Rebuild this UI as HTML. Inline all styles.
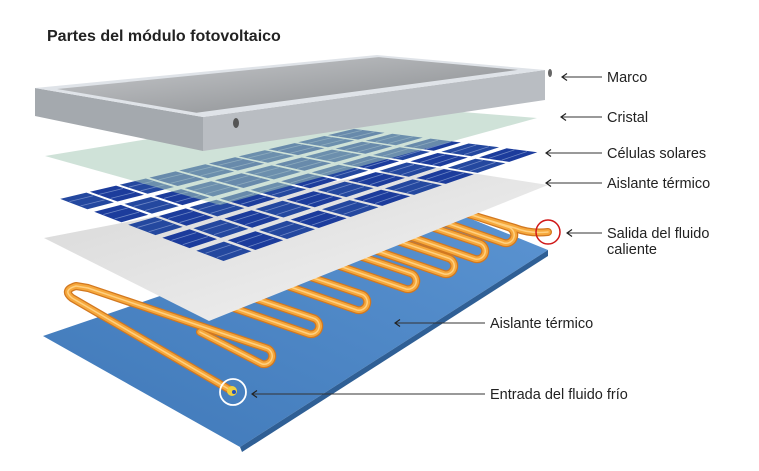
<!DOCTYPE html>
<html><head><meta charset="utf-8">
<style>
html,body{margin:0;padding:0;background:#fff;}
svg{display:block;}
text{font-family:"Liberation Sans",sans-serif;fill:#222;}
</style></head>
<body>
<svg id="s" width="759" height="471" viewBox="0 0 759 471" xmlns="http://www.w3.org/2000/svg">
<defs>
<linearGradient id="plate" x1="0" y1="1" x2="1" y2="0">
<stop offset="0" stop-color="#3f78b8"/><stop offset="1" stop-color="#5b94d2"/></linearGradient>
<linearGradient id="white" x1="0" y1="0" x2="1" y2="1">
<stop offset="0" stop-color="#d6d6d6"/><stop offset="1" stop-color="#f4f4f4"/></linearGradient>
<linearGradient id="innerG" x1="0" y1="0" x2="1" y2="1">
<stop offset="0" stop-color="#c9cbce"/><stop offset="1" stop-color="#85888b"/></linearGradient>
<marker id="ah" markerWidth="8" markerHeight="8" refX="1" refY="4" orient="auto" markerUnits="userSpaceOnUse">
<path d="M6,0.5 L1,4 L6,7.5" fill="none" stroke="#222" stroke-width="1.2"/></marker>
</defs>

<polygon points="43,336 432,203 548,250 240,447" fill="url(#plate)"/>
<polygon points="240,447 548,250 548,256 242,452" fill="#2f5f95"/>

<g id="pipe" fill="none" stroke-linecap="round" stroke-linejoin="round"></g>

<polygon points="44,238 420,165 548,185 209,321" fill="url(#white)"/>

<g id="cells"></g>

<polygon points="45,156 362,104 537,118 220,205" fill="#a8cbb8" opacity="0.55"/>

<polygon points="35,88 35,116 203,151 203,117" fill="#a4a9ae"/>
<polygon points="203,117 203,151 545,100 545,70" fill="#b9bdc2"/>
<polygon points="35,88 377,55 545,70 203,117" fill="#dfe3e8"/>
<polygon id="innerP" points="" fill="url(#innerG)"/>
<ellipse cx="236" cy="123" rx="3" ry="5" fill="#555"/>
<ellipse cx="550" cy="73" rx="2" ry="4" fill="#666"/>

<circle cx="548" cy="232" r="12" fill="none" stroke="#d01818" stroke-width="1.5"/>
<circle cx="233" cy="392" r="13" fill="none" stroke="#fff" stroke-width="1.8"/>
<circle cx="232" cy="391" r="5" fill="#f0d040"/>
<circle cx="234" cy="392" r="2" fill="#2050c0"/>

<text x="47" y="41" font-size="16" font-weight="bold" fill="#111">Partes del módulo fotovoltaico</text>

<g stroke="#333" stroke-width="1.1" marker-start="url(#ah)">
<line x1="562" y1="77" x2="602" y2="77"/>
<line x1="561" y1="117" x2="602" y2="117"/>
<line x1="546" y1="153" x2="602" y2="153"/>
<line x1="546" y1="183" x2="602" y2="183"/>
<line x1="567" y1="233" x2="602" y2="233"/>
<line x1="395" y1="323" x2="485" y2="323"/>
<line x1="252" y1="394" x2="485" y2="394"/>
</g>
<g font-size="14.5">
<text x="607" y="82">Marco</text>
<text x="607" y="122">Cristal</text>
<text x="607" y="158">Células solares</text>
<text x="607" y="188">Aislante térmico</text>
<text x="607" y="238">Salida del fluido</text>
<text x="607" y="254">caliente</text>
<text x="490" y="328">Aislante térmico</text>
<text x="490" y="399">Entrada del fluido frío</text>
</g>
</svg>
<script>
var NS="http://www.w3.org/2000/svg";
function bil(P,s,t){
 var L=P[0],B=P[1],R=P[2],F=P[3];
 var x=(1-s)*(1-t)*L[0]+s*(1-t)*B[0]+s*t*R[0]+(1-s)*t*F[0];
 var y=(1-s)*(1-t)*L[1]+s*(1-t)*B[1]+s*t*R[1]+(1-s)*t*F[1];
 return [x,y];}
function poly(P,s0,s1,t0,t1){
 return [bil(P,s0,t0),bil(P,s1,t0),bil(P,s1,t1),bil(P,s0,t1)].map(function(p){return p[0].toFixed(1)+","+p[1].toFixed(1)}).join(" ");}
var FR=[[35,88],[377,55],[545,70],[203,117]];
document.getElementById("innerP").setAttribute("points",poly(FR,0.03,0.97,0.07,0.9));
var CP=[[55,198],[352,128],[543,152],[225,263]];
var g=document.getElementById("cells");
var cols=10,rows=5;
for(var i=0;i<cols;i++)for(var j=0;j<rows;j++){
 var p=document.createElementNS(NS,"polygon");
 p.setAttribute("points",poly(CP,i/cols+0.006,(i+1)/cols-0.006,j/rows+0.02,(j+1)/rows-0.02));
 var c=(i+j)%2?"#1c3c9c":"#24489f";
 p.setAttribute("fill",c);g.appendChild(p);
 for(var k=1;k<3;k++){
  var a=bil(CP,i/cols+0.01,j/rows+k/(3*rows)),b=bil(CP,(i+1)/cols-0.01,j/rows+k/(3*rows));
  var l=document.createElementNS(NS,"line");
  l.setAttribute("x1",a[0]);l.setAttribute("y1",a[1]);l.setAttribute("x2",b[0]);l.setAttribute("y2",b[1]);
  l.setAttribute("stroke","#6d86c4");l.setAttribute("stroke-width","0.8");g.appendChild(l);}
}
var pg=document.getElementById("pipe");
var U=[[276,359],[323,329],[371,305],[420,284],[458,269],[489,254],[518,238]];
var d="M232,391 L72,298 Q62,290 76,286 L88,288 L266,348 A8,8 0 0 1 262,364 L200,332";
for(var n=1;n<U.length;n++){
 var x=U[n][0],y=U[n][1];
 d+=" M"+(x-150)+","+(y-58)+" L"+(x-10)+","+(y-11)+" A8,8 0 0 1 "+(x-14)+","+(y+5)+" L"+(x-150)+","+(y-42);
}
d+=" M380,188 L515,228 Q530,234 548,232";
[["#d27820",8],["#f6a83c",5.5],["#ffd080",1.5]].forEach(function(s){
 var p=document.createElementNS(NS,"path");p.setAttribute("d",d);
 p.setAttribute("stroke",s[0]);p.setAttribute("stroke-width",s[1]);pg.appendChild(p);});
</script>
</body></html>
